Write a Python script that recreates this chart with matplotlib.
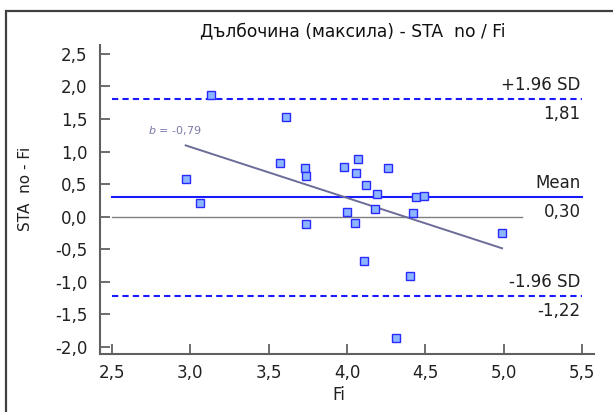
import matplotlib.pyplot as plt
import matplotlib.patches as patches
import numpy as np

plt.rcParams['font.family'] = ['DejaVu Sans']

# differences (STA no - Fi) against Fi
fi = np.array([2.97, 3.06, 3.13, 3.57, 3.61, 3.73, 3.74, 3.74, 3.98, 4.00, 4.05, 4.06,
               4.07, 4.12, 4.11, 4.18, 4.19, 4.26, 4.31, 4.40, 4.42, 4.44, 4.49, 4.99])
diff = np.array([0.58, 0.21, 1.87, 0.82, 1.53, 0.74, 0.62, -0.12, 0.76, 0.07, -0.10, 0.67,
                 0.89, 0.49, -0.69, 0.11, 0.35, 0.75, -1.87, -0.92, 0.06, 0.30, 0.32, -0.25])

mean_d = 0.30
upper = 1.81
lower = -1.22
slope_txt = "-0,79"
zero_end = 5.12

xticks = [2.5, 3.0, 3.5, 4.0, 4.5, 5.0, 5.5]
yticks = [-2.0, -1.5, -1.0, -0.5, 0.0, 0.5, 1.0, 1.5, 2.0, 2.5]

W, H = 613, 412
fig = plt.figure(figsize=(W / 100, H / 100), dpi=100)
ax = fig.add_axes([100 / W, (H - 354) / H, 494 / W, 309 / H])

blue = "#1a1aff"
ax.plot([2.5, zero_end], [0, 0], c="#808080", lw=1.0)
ax.plot([2.5, 5.5], [mean_d, mean_d], c=blue, lw=1.5)
ax.plot([2.5, 5.5], [upper, upper], c=blue, lw=1.5, ls=(0, (3, 2)))
ax.plot([2.5, 5.5], [lower, lower], c=blue, lw=1.5, ls=(0, (3, 2)))

# regression of differences
plf = np.polyfit(fi, diff, 1)
xr = np.array([fi.min(), fi.max()])
ax.plot(xr, np.polyval(plf, xr), c="#6c6c98", lw=1.4)

ax.plot(fi, diff, ls="none", marker="s", ms=6.2, mfc="#8cb6ff", mec="#2a2aff", mew=1.0, zorder=5)

ax.text(2.73, 1.32, "$b$ = " + slope_txt, color="#7a7aa8", fontsize=8, va="center")

def fmt(v):
    return ("%.2f" % v).replace(".", ",")

for yv, top, bot in [(upper, "+1.96 SD", fmt(upper)), (mean_d, "Mean", fmt(mean_d)), (lower, "-1.96 SD", fmt(lower))]:
    ax.text(5.49, yv + 0.08, top, ha="right", va="bottom", fontsize=12, color="#202020")
    ax.text(5.49, yv - 0.09, bot, ha="right", va="top", fontsize=12, color="#202020")

ax.set_xlim(2.4234, 5.5766)
ax.set_ylim(-2.114, 2.638)
ax.set_xticks(xticks)
ax.set_xticklabels([("%.1f" % v).replace(".", ",") for v in xticks])
ax.set_yticks(yticks)
ax.set_yticklabels([("%.1f" % v).replace(".", ",") for v in yticks])
ax.tick_params(direction="in", length=7, width=1.2, color="#555555", labelsize=12, labelcolor="#202020")
ax.tick_params(axis="y", pad=9)
ax.tick_params(axis="x", pad=7)
for s in ["top", "right"]:
    ax.spines[s].set_visible(False)
for s in ["left", "bottom"]:
    ax.spines[s].set_color("#606060")
    ax.spines[s].set_linewidth(1.5)

fig.text(353 / W, 1 - 31 / H, "Дълбочина (максила) - STA  no / Fi", ha="center", va="center", fontsize=12.3, color="#101010")
fig.text(26 / W, 1 - 189 / H, "STA  no - Fi", rotation=90, ha="center", va="center", fontsize=11, color="#202020")
fig.text(339 / W, 1 - 395 / H, "Fi", ha="center", va="center", fontsize=12, color="#202020")

fig.patches.append(patches.Rectangle((6 / W, -0.1), 2, 1.1 - 11 / H, transform=fig.transFigure,
                                     fill=False, ec="#404040", lw=1.6, clip_on=False))

fig.savefig("out.png", dpi=100)
